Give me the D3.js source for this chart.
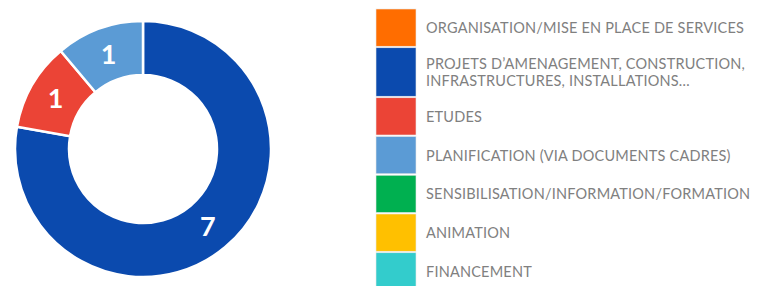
<!DOCTYPE html>
<html lang="fr">
<head>
<meta charset="utf-8">
<script src="https://d3js.org/d3.v7.min.js"></script>
<style>
  body { margin: 0; background: #fff; }
</style>
</head>
<body>
<script>
// categories, values and colours, in legend order
var categories = [
  ["ORGANISATION/MISE EN PLACE DE SERVICES"],
  ["PROJETS D\u2019AMENAGEMENT, CONSTRUCTION,", "INFRASTRUCTURES, INSTALLATIONS\u2026"],
  ["ETUDES"],
  ["PLANIFICATION (VIA DOCUMENTS CADRES)"],
  ["SENSIBILISATION/INFORMATION/FORMATION"],
  ["ANIMATION"],
  ["FINANCEMENT"]
];
var values = [0, 7, 1, 1, 0, 0, 0];
var colors = ["#FF6D00", "#0B4AAE", "#EB4436", "#5B9BD5", "#00B050", "#FFC000", "#33CCCC"];

var width = 758, height = 286;
var cx = 143, cy = 149, outerR = 128, innerR = 74;

var svg = d3.select("body").append("svg")
    .attr("width", width)
    .attr("height", height);

var data = values.map(function(v, i) { return {i: i, value: v}; });

var pie = d3.pie()
    .sort(null)
    .value(function(d) { return d.value; });

var arc = d3.arc()
    .innerRadius(innerR)
    .outerRadius(outerR);

var labelArc = d3.arc()
    .innerRadius((innerR + outerR) / 2)
    .outerRadius((innerR + outerR) / 2);

var donut = svg.append("g")
    .attr("transform", "translate(" + cx + "," + cy + ")");

var slices = pie(data).filter(function(d) { return d.data.value > 0; });

donut.selectAll("path")
    .data(slices)
    .enter().append("path")
    .attr("d", arc)
    .attr("fill", function(d) { return colors[d.data.i]; })
    .attr("stroke", "#fff")
    .attr("stroke-width", 2.5);

donut.selectAll("text")
    .data(slices)
    .enter().append("text")
    .attr("transform", function(d) { return "translate(" + labelArc.centroid(d) + ")"; })
    .attr("dy", "0.36em")
    .attr("text-anchor", "middle")
    .attr("font-family", "Lato, 'Open Sans', sans-serif")
    .attr("font-weight", "bold")
    .attr("font-size", 27)
    .attr("fill", "#fff")
    .text(function(d) { return d.data.value; });

// legend
var legendX = 376, legendTop = 9, swatchW = 40;
var rowH = function(lines) { return 38.75 + (lines - 1) * 11.25; };
var lineH = 17.7;

var y = legendTop;
var legend = svg.append("g");
categories.forEach(function(lines, i) {
  var h = rowH(lines.length);
  var g = legend.append("g");
  g.append("rect")
    .attr("x", legendX)
    .attr("y", y)
    .attr("width", swatchW)
    .attr("height", h - 1.5)
    .attr("fill", colors[i])
    .attr("stroke", "#e8e8e8")
    .attr("stroke-width", 0.6);
  var mid = y + (h - 1.5) / 2;
  var first = mid + 5.5 - (lines.length - 1) * lineH / 2;
  var t = g.append("text")
    .attr("x", legendX + 50)
    .attr("y", first)
    .attr("font-family", "Lato, 'Open Sans', sans-serif")
    .attr("font-size", 14.5)
    .attr("letter-spacing", 0.2)
    .attr("fill", "#808080");
  lines.forEach(function(s, k) {
    t.append("tspan")
      .attr("x", legendX + 50)
      .attr("y", first + k * lineH)
      .text(s);
  });
  y += h;
});
</script>
</body>
</html>
